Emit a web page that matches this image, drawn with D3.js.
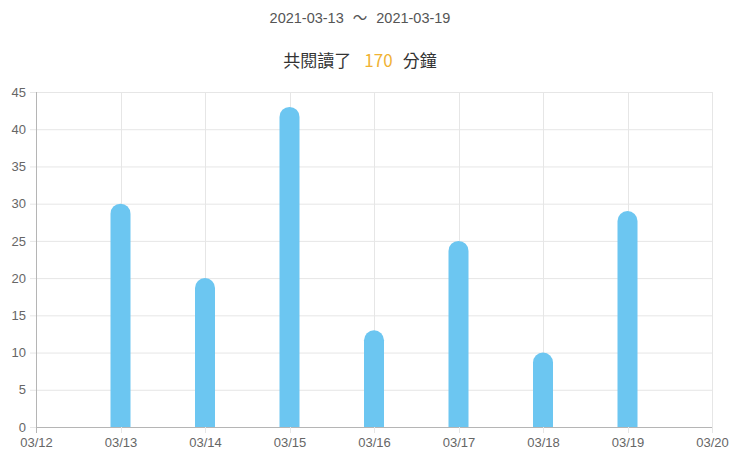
<!DOCTYPE html>
<html>
<head>
<meta charset="utf-8">
<script src="https://cdn.jsdelivr.net/npm/d3@7"></script>
<style>
  body { margin: 0; background: #fff; font-family: "Noto Sans CJK TC", "Noto Sans", sans-serif; }
</style>
</head>
<body>
<div id="chart"></div>
<script>
// chart data
var days = ["03/12", "03/13", "03/14", "03/15", "03/16", "03/17", "03/18", "03/19", "03/20"];
var barDays = ["03/13", "03/14", "03/15", "03/16", "03/17", "03/18", "03/19"];
var minutes = [30, 20, 43, 13, 25, 10, 29];
var yTicks = [0, 5, 10, 15, 20, 25, 30, 35, 40, 45];
var rangeParts = ["2021-03-13", "～", "2021-03-19"];
var titleParts = ["共閱讀了", "170", "分鐘"];

var width = 740, height = 460;
var margin = {top: 92, right: 28, bottom: 33, left: 36};
var tickFont = "'Liberation Sans', Arial, sans-serif";
var headX = 360;

var svg = d3.select("#chart")
  .append("svg")
  .attr("width", width)
  .attr("height", height);

var x = d3.scalePoint()
  .domain(days)
  .range([margin.left, width - margin.right]);

var y = d3.scaleLinear()
  .domain([0, 45])
  .range([height - margin.bottom, margin.top]);

// header texts
var sub = svg.append("text")
  .attr("x", headX)
  .attr("y", 23)
  .attr("text-anchor", "middle")
  .style("font-size", "14.5px")
  .style("font-family", tickFont)
  .style("fill", "#555");
sub.append("tspan").text(rangeParts[0]);
sub.append("tspan").attr("dx", 9).style("font-family", "'Noto Sans CJK TC'").text(rangeParts[1]);
sub.append("tspan").attr("dx", 9).text(rangeParts[2]);

var title = svg.append("text")
  .attr("x", headX)
  .attr("y", 67)
  .attr("text-anchor", "middle")
  .style("font-size", "17px")
  .style("fill", "#333");
title.append("tspan").text(titleParts[0]);
title.append("tspan").attr("dx", 13).style("fill", "#f0b233").text(titleParts[1]);
title.append("tspan").attr("dx", 10).text(titleParts[2]);

// grid lines
svg.append("g")
  .selectAll("line")
  .data(yTicks)
  .enter()
  .append("line")
  .attr("x1", margin.left)
  .attr("x2", width - margin.right)
  .attr("y1", function(d) { return y(d) + 0.5; })
  .attr("y2", function(d) { return y(d) + 0.5; })
  .style("stroke", function(d) { return d == 0 ? "#b5b5b5" : "#e6e6e6"; });

svg.append("g")
  .selectAll("line")
  .data(days)
  .enter()
  .append("line")
  .attr("x1", function(d) { return Math.round(x(d)) + 0.5; })
  .attr("x2", function(d) { return Math.round(x(d)) + 0.5; })
  .attr("y1", margin.top)
  .attr("y2", height - margin.bottom + 6)
  .style("stroke", function(d, i) { return i == 0 ? "#b5b5b5" : "#e6e6e6"; });

// axes labels
var yAxis = svg.append("g")
  .attr("transform", "translate(" + margin.left + ",0)")
  .call(d3.axisLeft(y).tickValues(yTicks).tickSize(6).tickPadding(4));
yAxis.select(".domain").remove();
yAxis.selectAll("line").style("stroke", "#e6e6e6");
yAxis.selectAll("text").style("font-size", "13px").style("fill", "#666")
  .style("font-family", tickFont);

var xAxis = svg.append("g")
  .attr("transform", "translate(0," + (height - margin.bottom) + ")")
  .call(d3.axisBottom(x).tickSize(0).tickPadding(11));
xAxis.select(".domain").remove();
xAxis.selectAll("text").style("font-size", "13px").style("fill", "#666")
  .style("font-family", tickFont);

// bars with rounded tops
var barW = 20, r = 10;
function barPath(d, i) {
  var cx = x(barDays[i]);
  var x0 = cx - barW / 2, x1 = cx + barW / 2;
  var y0 = y(0), yt = y(d);
  return "M" + x0 + "," + y0 +
    "L" + x0 + "," + (yt + r) +
    "A" + r + "," + r + " 0 0 1 " + x1 + "," + (yt + r) +
    "L" + x1 + "," + y0 + "Z";
}

svg.append("g")
  .selectAll("path")
  .data(minutes)
  .enter()
  .append("path")
  .attr("d", barPath)
  .style("fill", "#6cc6f1");
</script>
</body>
</html>
